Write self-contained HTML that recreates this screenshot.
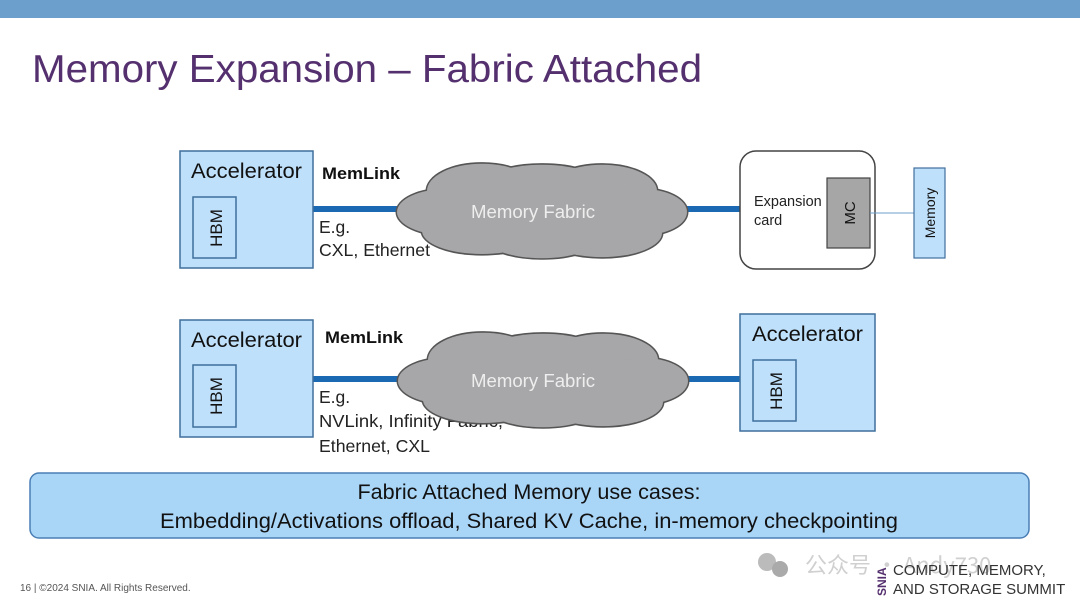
<!DOCTYPE html>
<html><head><meta charset="utf-8"><style>
html,body{margin:0;padding:0;background:#fff}
svg{display:block}
</style></head><body>
<svg width="1080" height="608" viewBox="0 0 1080 608" xmlns="http://www.w3.org/2000/svg" font-family="'Liberation Sans','DejaVu Sans',sans-serif">
<rect x="0" y="0" width="1080" height="18" fill="#6c9fcc"/>
<text x="32" y="82" font-size="39" fill="#55306f" textLength="670" lengthAdjust="spacingAndGlyphs">Memory Expansion – Fabric Attached</text>

<defs>
<g id="cloud">
<ellipse cx="-95" cy="0" rx="50" ry="22"/>
<ellipse cx="-60" cy="-20" rx="55" ry="26"/>
<ellipse cx="0" cy="-25" rx="60" ry="20"/>
<ellipse cx="60" cy="-20" rx="55" ry="25"/>
<ellipse cx="100" cy="0" rx="45" ry="22"/>
<ellipse cx="60" cy="20" rx="60" ry="23"/>
<ellipse cx="0" cy="22" rx="60" ry="22"/>
<ellipse cx="-60" cy="18" rx="60" ry="22"/>
<ellipse cx="0" cy="0" rx="110" ry="30"/>
</g>
</defs>

<!-- Row 1 -->
<line x1="313" y1="209" x2="740" y2="209" stroke="#1b69b3" stroke-width="6"/>
<rect x="180" y="151" width="133" height="117" fill="#bfe0fa" stroke="#3f6f9c" stroke-width="1.5"/>
<text x="191" y="178" font-size="21.5" fill="#111" textLength="111" lengthAdjust="spacingAndGlyphs">Accelerator</text>
<rect x="193" y="197" width="43" height="61" fill="#bfe0fa" stroke="#3f6f9c" stroke-width="1.5"/>
<text transform="translate(222,228) rotate(-90)" text-anchor="middle" font-size="17" fill="#111">HBM</text>
<text x="322" y="179" font-size="17" font-weight="bold" fill="#111" textLength="78" lengthAdjust="spacingAndGlyphs">MemLink</text>
<text x="319" y="233" font-size="17.5" fill="#222">E.g.</text>
<text x="319" y="256" font-size="17.5" fill="#222" textLength="111" lengthAdjust="spacingAndGlyphs">CXL, Ethernet</text>
<g transform="translate(542,212) scale(1,1.05)">
<use href="#cloud" fill="none" stroke="#555" stroke-width="3"/>
<use href="#cloud" fill="#a7a7a9"/>
</g>
<text x="533" y="218" text-anchor="middle" font-size="18" fill="#eee" textLength="124" lengthAdjust="spacingAndGlyphs">Memory Fabric</text>

<rect x="740" y="151" width="135" height="118" rx="16" fill="#fff" stroke="#444" stroke-width="1.5"/>
<text x="754" y="206" font-size="14.5" fill="#222">Expansion</text>
<text x="754" y="225" font-size="14.5" fill="#222">card</text>
<rect x="827" y="178" width="43" height="70" fill="#a6a6a6" stroke="#444" stroke-width="1.2"/>
<text transform="translate(855,213) rotate(-90)" text-anchor="middle" font-size="15" fill="#111">MC</text>
<line x1="870" y1="213" x2="914" y2="213" stroke="#6f9fc9" stroke-width="1"/>
<rect x="914" y="168" width="31" height="90" fill="#bfe0fa" stroke="#3f6f9c" stroke-width="1.2"/>
<text transform="translate(935,213) rotate(-90)" text-anchor="middle" font-size="14" fill="#111">Memory</text>

<!-- Row 2 -->
<line x1="313" y1="379" x2="740" y2="379" stroke="#1b69b3" stroke-width="6"/>
<rect x="180" y="320" width="133" height="117" fill="#bfe0fa" stroke="#3f6f9c" stroke-width="1.5"/>
<text x="191" y="347" font-size="21.5" fill="#111" textLength="111" lengthAdjust="spacingAndGlyphs">Accelerator</text>
<rect x="193" y="365" width="43" height="62" fill="#bfe0fa" stroke="#3f6f9c" stroke-width="1.5"/>
<text transform="translate(222,396) rotate(-90)" text-anchor="middle" font-size="17" fill="#111">HBM</text>
<text x="325" y="343" font-size="17" font-weight="bold" fill="#111" textLength="78" lengthAdjust="spacingAndGlyphs">MemLink</text>
<text x="319" y="403" font-size="17.5" fill="#222">E.g.</text>
<text x="319" y="427" font-size="17.5" fill="#222" textLength="184" lengthAdjust="spacingAndGlyphs">NVLink, Infinity Fabric,</text>
<text x="319" y="452" font-size="17.5" fill="#222" textLength="111" lengthAdjust="spacingAndGlyphs">Ethernet, CXL</text>
<g transform="translate(543,381) scale(1,1.05)">
<use href="#cloud" fill="none" stroke="#555" stroke-width="3"/>
<use href="#cloud" fill="#a7a7a9"/>
</g>
<text x="533" y="387" text-anchor="middle" font-size="18" fill="#eee" textLength="124" lengthAdjust="spacingAndGlyphs">Memory Fabric</text>

<rect x="740" y="314" width="135" height="117" fill="#bfe0fa" stroke="#3f6f9c" stroke-width="1.5"/>
<text x="752" y="341" font-size="21.5" fill="#111" textLength="111" lengthAdjust="spacingAndGlyphs">Accelerator</text>
<rect x="753" y="360" width="43" height="61" fill="#bfe0fa" stroke="#3f6f9c" stroke-width="1.5"/>
<text transform="translate(782,391) rotate(-90)" text-anchor="middle" font-size="17" fill="#111">HBM</text>

<!-- Bottom banner -->
<rect x="30" y="473" width="999" height="65" rx="9" fill="#a9d5f7" stroke="#4a7fb5" stroke-width="1.5"/>
<text x="529" y="499" text-anchor="middle" font-size="21" fill="#111" textLength="343" lengthAdjust="spacingAndGlyphs">Fabric Attached Memory use cases:</text>
<text x="529" y="528" text-anchor="middle" font-size="21" fill="#111" textLength="738" lengthAdjust="spacingAndGlyphs">Embedding/Activations offload, Shared KV Cache, in-memory checkpointing</text>

<!-- Footer -->
<text x="20" y="591" font-size="10" fill="#555">16 | ©2024 SNIA. All Rights Reserved.</text>
<circle cx="767" cy="562" r="9" fill="#bbb"/><circle cx="780" cy="569" r="8" fill="#aaa"/>
<text x="805" y="573" font-size="22" fill="#d0d0d0" font-family="'Noto Sans CJK SC',sans-serif">公众号 · Andy730</text>
<text transform="translate(886,596) rotate(-90)" font-size="12" font-weight="bold" fill="#55306f">SNIA</text>
<text x="893" y="575" font-size="15" fill="#333">COMPUTE, MEMORY,</text>
<text x="893" y="594" font-size="15" fill="#333">AND STORAGE SUMMIT</text>
</svg>
</body></html>
